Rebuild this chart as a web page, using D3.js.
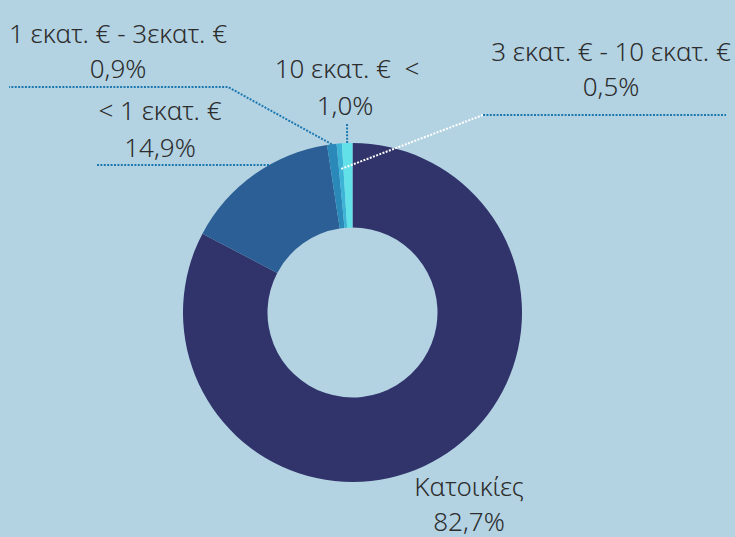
<!DOCTYPE html>
<html>
<head>
<meta charset="utf-8">
<script src="https://cdn.jsdelivr.net/npm/d3@7"></script>
<style>
  html, body { margin: 0; padding: 0; background: #b3d3e3; }
  svg { display: block; }
  text { font-family: "Noto Sans", "Open Sans", sans-serif; font-weight: 300; fill: #2d2d2d; white-space: pre; }
</style>
</head>
<body>
<div id="chart"></div>
<script>
// data
const categories = ["Κατοικίες", "< 1 εκατ. €", "1 εκατ. € - 3εκατ. €", "3 εκατ. € - 10 εκατ. €", "10 εκατ. €  <"];
const values = [82.7, 14.9, 0.9, 0.5, 1.0];
const valueLabels = ["82,7%", "14,9%", "0,9%", "0,5%", "1,0%"];
const colors = ["#31346b", "#2c5f95", "#2a89b8", "#3db4d6", "#63e1e8"];

let width = 735, height = 537;
let cx = 352.5, cy = 312.5;
let outerR = 169.5, innerR = 85;

// label placement per slice: text centre, two baselines, leader route
const labelPos = [
  {x: 469, y: 496, y2: 531, line: null},
  {x: 160, y: 120, y2: 157, line: {r: 1.0, yAt: 165, to: [[97, 165]]}},
  {x: 118, y: 43, y2: 78, line: {r: 1.0, to: [[228, 87], [9, 87]]}},
  {x: 611, y: 61, y2: 96, line: {r: 0.85, white: [483, 115], to: [[726, 115]]}},
  {x: 347, y: 78, y2: 115, dx2: -2, line: {r: 1.0, to: [[347, 123]]}}
];

const svg = d3.select("#chart").append("svg")
    .attr("width", width)
    .attr("height", height);

const pie = d3.pie().sort(null).value(d => d)(values);
const arc = d3.arc().innerRadius(innerR).outerRadius(outerR);

const g = svg.append("g").attr("transform", `translate(${cx},${cy})`);

g.selectAll("path")
  .data(pie)
  .join("path")
    .attr("d", arc)
    .attr("fill", (d, i) => colors[i]);

// leader lines
const lineGen = d3.line();
pie.forEach((d, i) => {
  const L = labelPos[i].line;
  if (!L) return;
  const mid = (d.startAngle + d.endAngle) / 2;
  let start;
  if (L.yAt !== undefined) {
    // run horizontally into the ring edge
    const dy = L.yAt - cy;
    start = [cx - Math.sqrt(outerR * outerR - dy * dy), L.yAt];
  } else {
    const r = outerR * L.r;
    start = [cx + r * Math.sin(mid), cy - r * Math.cos(mid)];
  }
  let pts = [start];
  if (L.white) {
    svg.append("path")
      .attr("d", lineGen([start, L.white]))
      .attr("fill", "none")
      .attr("stroke", "#ffffff")
      .attr("stroke-width", 2)
      .attr("stroke-dasharray", "2,1.4");
    pts = [L.white];
  }
  svg.append("path")
    .attr("d", lineGen(pts.concat(L.to)))
    .attr("fill", "none")
    .attr("stroke", "#1d78b0")
    .attr("stroke-width", 2)
    .attr("stroke-dasharray", "2,1.4");
});

// labels
const labels = svg.append("g")
    .attr("font-size", 26)
    .attr("text-anchor", "middle");

labelPos.forEach((p, i) => {
  labels.append("text").attr("x", p.x).attr("y", p.y).text(categories[i]);
  labels.append("text").attr("x", p.x + (p.dx2 || 0)).attr("y", p.y2).text(valueLabels[i]);
});
</script>
</body>
</html>
